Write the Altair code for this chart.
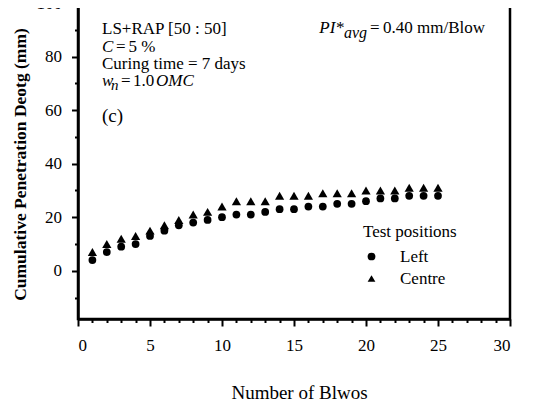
import altair as alt
import pandas as pd

# ---- data ----
blows = list(range(1, 26))
left = [4, 7, 9, 10, 13, 15, 17, 18, 19, 20, 21, 21, 22, 23, 23, 24, 24, 25, 25, 26, 27, 27, 28, 28, 28]
centre = [7, 10, 12, 13, 15, 17, 19, 21, 22, 24, 26, 26, 26, 28, 28, 28, 29, 29, 29, 30, 30, 30, 31, 31, 31]
positions = ["Left", "Centre"]
shapes = ["circle", "triangle-up"]
x_ticks = list(range(0, 31))
y_ticks = list(range(-10, 101, 10))

FONT = "Liberation Serif"
W, H = 432, 316

df = pd.DataFrame({
    "Blows": blows * 2,
    "Pen": left + centre,
    "Position": ["Left"] * len(left) + ["Centre"] * len(centre),
})

x_enc = alt.X("Blows:Q",
              scale=alt.Scale(domain=[0, 30], nice=False, zero=False),
              axis=alt.Axis(values=x_ticks, title="Number of Blwos",
                            labelExpr="datum.value % 5 === 0 ? datum.label : ''",
                            tickSize={"condition": {"test": "datum.value % 5 === 0", "value": 7}, "value": 3.5},
                            labelPadding=11, labelFontSize=17,
                            titleFontSize=19, titleFontWeight="normal",
                            titleX=221, titleY=79, titleBaseline="alphabetic"))
y_enc = alt.Y("Pen:Q",
              scale=alt.Scale(domain=[-18, 100], nice=False, zero=False),
              axis=alt.Axis(values=y_ticks, title="Cumulative Penetration Deotg (mm)",
                            labelExpr="datum.value % 20 === 0 ? datum.label : ''",
                            tickSize={"condition": {"test": "datum.value % 20 === 0", "value": 6.5}, "value": 3.5},
                            labelPadding=10, labelFontSize=17,
                            titleFontSize=17.5, titleFontWeight="bold",
                            titleAngle=270, titleX=-53, titleY=161,
                            titleAlign="center", titleBaseline="alphabetic"))
shape_enc = alt.Shape("Position:N", scale=alt.Scale(domain=positions, range=shapes),
                      legend=alt.Legend(title="Test positions", orient="none",
                                        legendX=285, legendY=221, padding=0,
                                        titleFont=FONT, titleFontSize=17, titleFontWeight="normal",
                                        titleColor="black", titlePadding=7,
                                        labelFont=FONT, labelFontSize=17, labelColor="black",
                                        labelOffset=20, rowPadding=4,
                                        symbolSize=60, symbolFillColor="black",
                                        symbolStrokeColor="black", symbolStrokeWidth=0))

base = alt.Chart(df).encode(x=x_enc, y=y_enc, shape=shape_enc)
left_pts = base.transform_filter(alt.datum.Position == "Left").mark_point(
    filled=True, color="black", opacity=1, size=60)
centre_pts = base.transform_filter(alt.datum.Position == "Centre").mark_point(
    filled=True, color="black", opacity=1, size=85)


def txt(s, x, y, size=17, style="normal"):
    return alt.Chart(alt.Data(values=[{}])).mark_text(
        text=s, font=FONT, fontSize=size, fontStyle=style, align="left",
        baseline="alphabetic", color="black"
    ).encode(x=alt.value(x), y=alt.value(y))


texts = [
    txt("LS+RAP [50 : 50]", 24, 31.3),
    txt("C", 24, 48.7, style="italic"),
    txt("=", 38, 48.7),
    txt("5 %", 50.5, 48.7),
    txt("Curing time = 7 days", 24, 65.5),
    txt("w", 24, 82.7, style="italic"),
    txt("n", 33, 87, size=15, style="italic"),
    txt("=", 43, 82.7),
    txt("1.0", 55, 82.7),
    txt("OMC", 78, 82.7, style="italic"),
    txt("(c)", 24, 118.7, size=19),
    txt("PI*", 241.3, 30.3, style="italic"),
    txt("avg", 266, 34.5, size=16, style="italic"),
    txt("=", 292, 30.3),
    txt("0.40 mm/Blow", 305, 30.3),
]

chart = alt.layer(left_pts, centre_pts, *texts).properties(
    width=W, height=H,
    autosize="none",
    padding={"left": 70, "top": -5, "right": 15, "bottom": 82},
).configure_view(
    stroke="black", strokeWidth=2.5
).configure_axis(
    grid=False, domainColor="black", domainWidth=2.5, tickColor="black", tickWidth=2,
    labelFont=FONT, labelColor="black", titleFont=FONT, titleColor="black",
)

chart.save("out.html", embed_options={"renderer": "svg", "actions": False})
